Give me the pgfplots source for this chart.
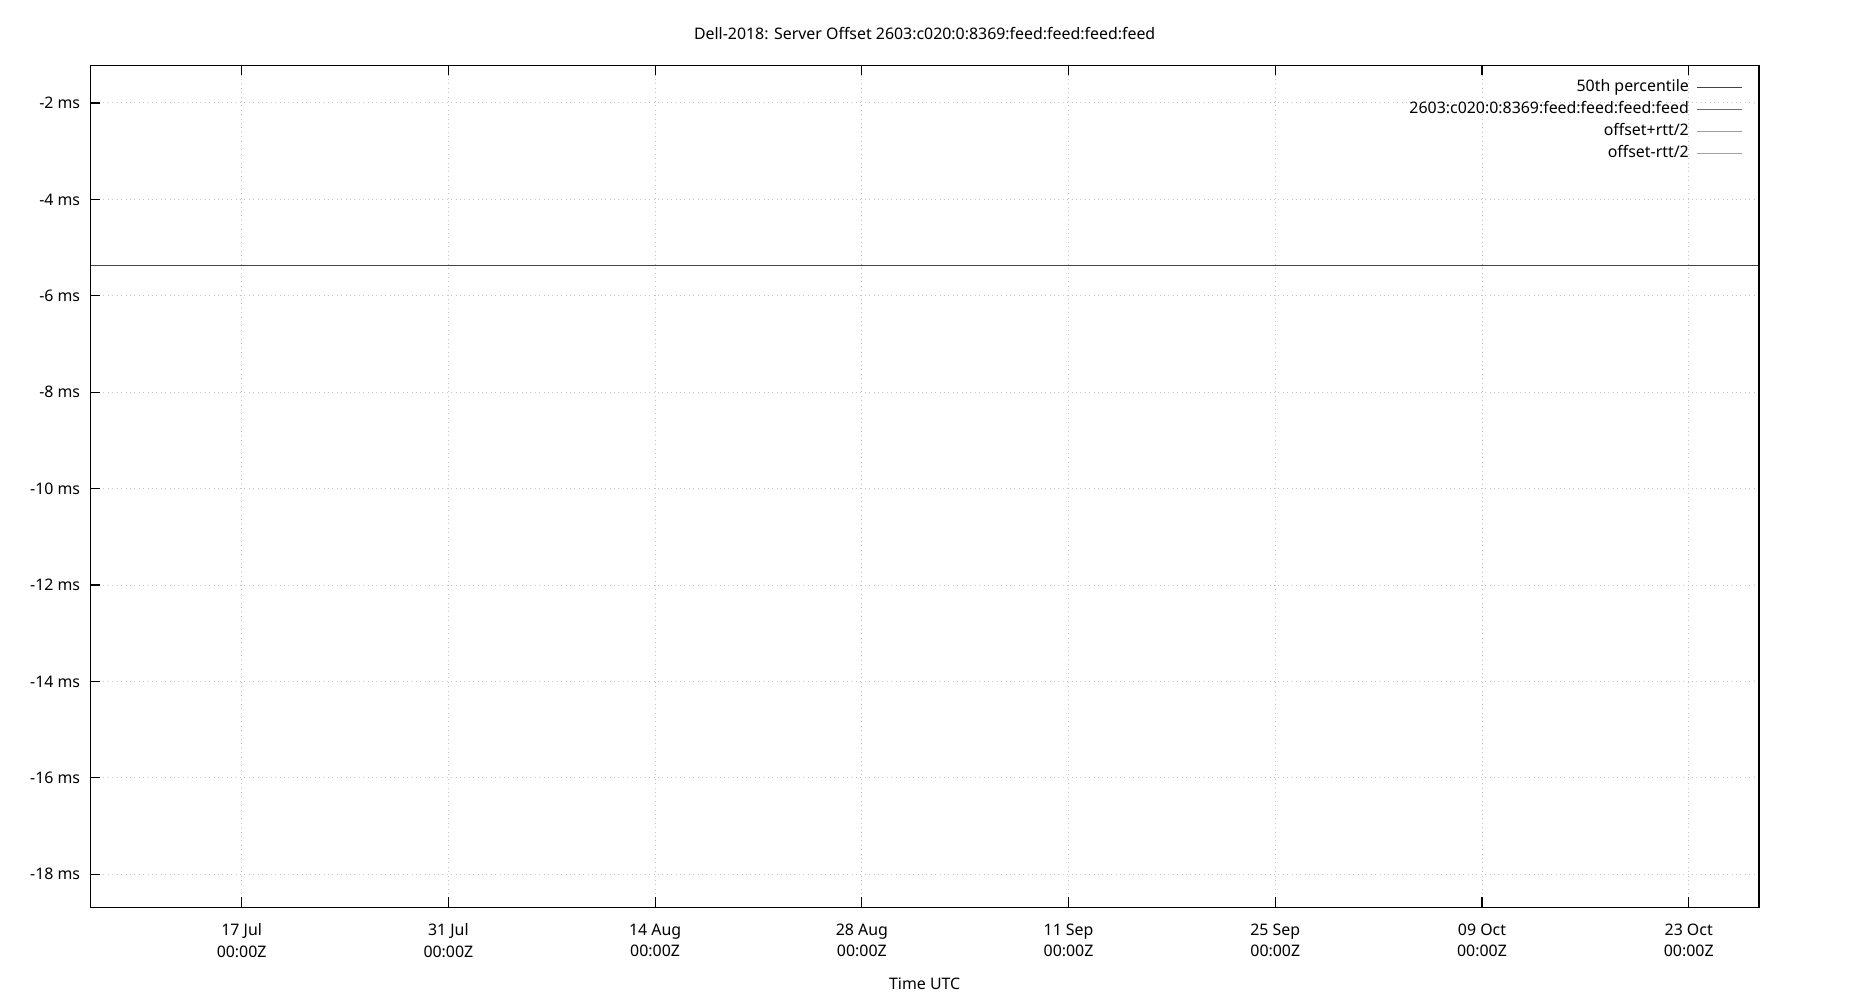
\documentclass[border=0pt]{standalone}
\usepackage{fontspec}
\setmainfont{Noto Sans}
\usepackage{pgfplots}
\pgfplotsset{compat=1.18}

\definecolor{gpviolet}{HTML}{9400D3}
\definecolor{gpgreen}{HTML}{009E73}
\definecolor{gpblue}{HTML}{56B4E9}
\definecolor{gporange}{HTML}{E69F00}

\begin{document}
\begin{tikzpicture}[font=\fontsize{7.95}{10.75}\selectfont]
\useasboundingbox (-45.15pt,-46.35pt) rectangle (879.85pt,453.65pt);
\begin{axis}[
  at={(0,0)}, anchor=south west,
  scale only axis, width=834.35pt, height=421pt,
  xmin=-10.25, xmax=102.76,
  ymin=-18.685, ymax=-1.218,
  xtick={0,14,28,42,56,70,84,98},
  xticklabels={{17 Jul\\00:00Z},{31 Jul\\00:00Z},{14 Aug\\00:00Z},{28 Aug\\00:00Z},
               {11 Sep\\00:00Z},{25 Sep\\00:00Z},{09 Oct\\00:00Z},{23 Oct\\00:00Z}},
  ytick={-18,-16,-14,-12,-10,-8,-6,-4,-2},
  yticklabels={{-18 ms},{-16 ms},{-14 ms},{-12 ms},{-10 ms},{-8 ms},{-6 ms},{-4 ms},{-2 ms}},
  xtick pos=both, ytick pos=left,
  tick align=inside, major tick length=5pt,
  every tick/.style={black, line width=0.6pt},
  axis line style={black, line width=0.6pt},
  axis on top,
  grid=major,
  grid style={gray!45, line width=0.5pt, dash pattern=on 0.5pt off 1.7pt},
  xticklabel style={align=center, anchor=north, inner sep=0pt, yshift=-8.1pt,
                    font=\fontsize{7.95}{10.75}\selectfont},
  yticklabel style={anchor=east, inner sep=0pt, xshift=-4.9pt},
  title={Dell-2018: Server Offset 2603:c020:0:8369:feed:feed:feed:feed},
  title style={at={(0.5,1)}, anchor=base, inner sep=0pt, yshift=7pt},
  xlabel={Time UTC},
  xlabel style={at={(0.5,0)}, anchor=base, inner sep=0pt, yshift=-41.1pt},
  legend style={at={(1,1)}, anchor=north east, xshift=-8.4pt, yshift=-5.4pt,
                draw=none, fill=none, inner sep=0pt, outer sep=0pt, row sep=0pt,
                nodes={inner sep=0pt, text height=7.6pt, text depth=3.45pt}},
  legend cell align=right,
  legend plot pos=right,
  legend image code/.code={\path (0pt,0pt); \draw[#1] (3.6pt,0pt) -- (26.1pt,0pt);},
]
\addplot[gpviolet, line width=0.6pt] coordinates {(-10.25,-5.367) (102.76,-5.367)};
\addlegendentry{50th percentile}
\addplot[gpgreen, line width=0.5pt] coordinates {(-10.25,-5.40) (-10.25,-9.20)};
\addlegendentry{2603:c020:0:8369:feed:feed:feed:feed}
\addplot[gpblue, line width=0.5pt] coordinates {(-10.25,-5.40) (-10.25,-8.60)};
\addlegendentry{offset+rtt/2}
\addlegendimage{gporange, line width=0.6pt}
\addlegendentry{offset-rtt/2}
\end{axis}
\end{tikzpicture}
\end{document}
